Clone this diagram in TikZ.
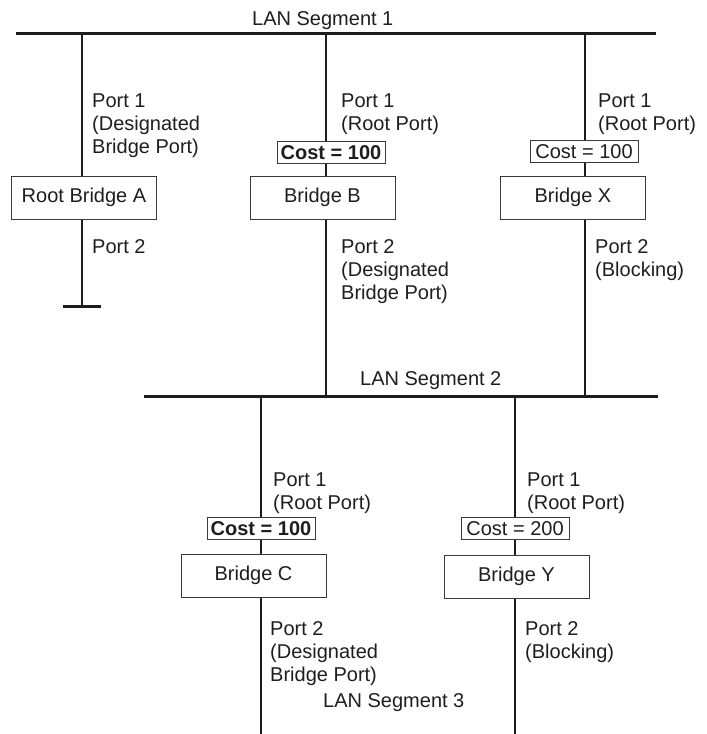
\documentclass[tikz,border=0pt]{standalone}
\usepackage{fontspec}
\setmainfont{Liberation Sans}
\newcommand{\portlbl}[1]{\begin{tabular}[t]{@{}l@{}}#1\end{tabular}}
\definecolor{ink}{HTML}{1C1C1C}
\definecolor{boxc}{HTML}{3A3A3A}
\definecolor{txt}{HTML}{1E1E1E}
\begin{document}
\begin{tikzpicture}[x=1pt,y=-1pt,
  every node/.style={font=\fontsize{20}{23}\selectfont, text=txt},
  lan/.style={line width=3pt, draw=ink},
  drop/.style={line width=2.5pt, draw=ink},
  bridge/.style={draw=boxc, line width=1pt, fill=white, minimum width=145pt, minimum height=43pt, inner sep=0},
  cost/.style={draw=boxc, line width=1pt, fill=white, minimum width=108pt, minimum height=22pt, inner sep=0},
  lbl/.style={anchor=base west, inner sep=0}]
\useasboundingbox (0,0) rectangle (707,734);

% LAN segments
\coordinate (s1l) at (16,33);
\coordinate (s1r) at (656,33);
\coordinate (s2l) at (144,396);
\coordinate (s2r) at (658,396);
\draw[lan] (s1l) -- (s1r);
\draw[lan] (s2l) -- (s2r);

% tap points
\coordinate (aT) at (82,33);
\coordinate (aB) at (82,306);
\coordinate (aSl) at (63,306);
\coordinate (aSr) at (101,306);
\coordinate (bT) at (326,33);
\coordinate (bB) at (326,396);
\coordinate (xT) at (585,33);
\coordinate (xB) at (585,396);
\coordinate (cT) at (261,396);
\coordinate (cB) at (261,734);
\coordinate (yT) at (515,396);
\coordinate (yB) at (515,734);

% bridges
\node[bridge] (A) at (84,197.5) {Root Bridge A};
\node[bridge] (B) at (322.5,197.5) {Bridge B};
\node[bridge] (X) at (573,197.5) {Bridge X};
\node[bridge] (C) at (253.5,575.5) {Bridge C};
\node[bridge] (Y) at (516.5,576.5) {Bridge Y};

% drops
\draw[drop] (aT) -- (aT |- A.north);
\draw[drop] (aT |- A.south) -- (aB);
\draw[lan] (aSl) -- (aSr);
\draw[drop] (bT) -- (bT |- B.north);
\draw[drop] (bT |- B.south) -- (bB);
\draw[drop] (xT) -- (xT |- X.north);
\draw[drop] (xT |- X.south) -- (xB);
\draw[drop] (cT) -- (cT |- C.north);
\draw[drop] (cT |- C.south) -- (cB);
\draw[drop] (yT) -- (yT |- Y.north);
\draw[drop] (yT |- Y.south) -- (yB);

% costs
\node[cost] (cb) at (331,152.5) {\textbf{Cost = 100}};
\node[cost] (cx) at (584,151.5) {Cost = 100};
\node[cost] (cc) at (261,528.5) {\textbf{Cost = 100}};
\node[cost] (cy) at (515,528.5) {Cost = 200};

% segment labels
\node[lbl] (l1) at (252,25) {LAN Segment 1};
\node[lbl] (l2) at (360,385) {LAN Segment 2};
\node[lbl] (l3) at (323,707) {LAN Segment 3};

% port labels
\node[lbl] (a1) at (92,107) {\portlbl{Port 1\\(Designated\\Bridge Port)}};
\node[lbl] (a2) at (92,253) {\portlbl{Port 2}};
\node[lbl] (b1) at (341,107) {\portlbl{Port 1\\(Root Port)}};
\node[lbl] (b2) at (341,253) {\portlbl{Port 2\\(Designated\\Bridge Port)}};
\node[lbl] (x1) at (598,107) {\portlbl{Port 1\\(Root Port)}};
\node[lbl] (x2) at (595,253) {\portlbl{Port 2\\(Blocking)}};
\node[lbl] (c1) at (273,486) {\portlbl{Port 1\\(Root Port)}};
\node[lbl] (c2) at (270,635) {\portlbl{Port 2\\(Designated\\Bridge Port)}};
\node[lbl] (y1) at (527,486) {\portlbl{Port 1\\(Root Port)}};
\node[lbl] (y2) at (525,635) {\portlbl{Port 2\\(Blocking)}};
\end{tikzpicture}
\end{document}
